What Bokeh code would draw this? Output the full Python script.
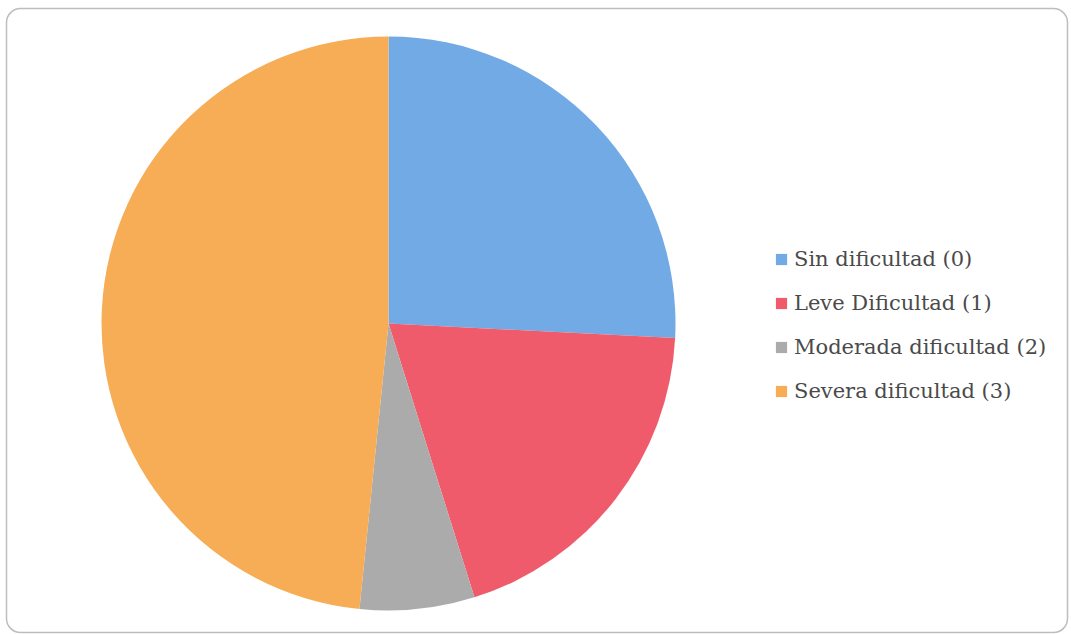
import numpy as np
from bokeh.plotting import figure
from bokeh.models import Range1d, Legend, LegendItem, ColumnDataSource
from bokeh.embed import file_html
from bokeh.resources import INLINE

categories = ["Sin dificultad (0)", "Leve Dificultad (1)", "Moderada dificultad (2)", "Severa dificultad (3)"]
values = [8, 6, 2, 15]
colors = ["#72AAE6", "#F05B6C", "#ABABAB", "#F6AD55"]

W, H = 1071, 634
p = figure(width=W, height=H, output_backend="svg", toolbar_location=None,
           x_range=Range1d(0, W), y_range=Range1d(0, H), min_border=0)
p.axis.visible = False
p.grid.visible = False
p.outline_line_color = None
p.background_fill_color = "white"

# rounded frame
p.quad(left=[6], right=[1067], bottom=[H - 632], top=[H - 8], fill_color=None,
       line_color="#BDBDBD", line_width=1.5, border_radius=14)

vals = np.array(values, dtype=float)
frac = vals / vals.sum()
ends = np.cumsum(frac)
starts = ends - frac
start_angle = np.pi / 2 - starts * 2 * np.pi
end_angle = np.pi / 2 - ends * 2 * np.pi
src = ColumnDataSource(dict(cat=categories, start=start_angle, end=end_angle, color=colors))

cx, cy, r = 388, H - 323, 287
wr = p.wedge(x=cx, y=cy, radius=r, start_angle="start", end_angle="end",
             direction="clock", fill_color="color", line_color=None, source=src)

items = [LegendItem(label=c, renderers=[wr], index=i) for i, c in enumerate(categories)]
legend = Legend(items=items, location=(774, 231), padding=5, spacing=20,
                label_height=24, glyph_height=14, glyph_width=14, label_standoff=6,
                label_text_font="DejaVu Serif", label_text_font_size="21px",
                label_text_color="#4A4A4A", border_line_color=None,
                background_fill_alpha=0)
p.add_layout(legend)

open("out.html", "w").write(file_html(p, INLINE))
